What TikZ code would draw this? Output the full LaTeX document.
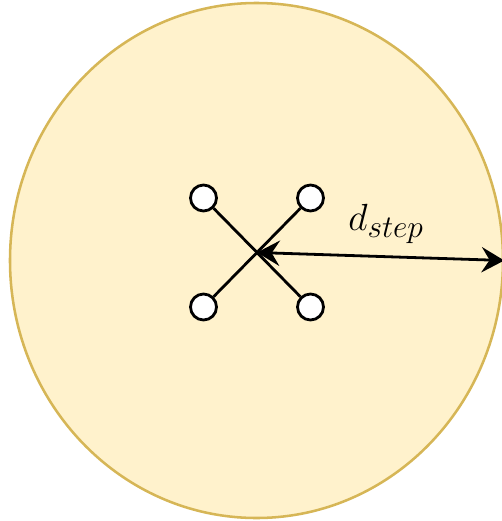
\documentclass[tikz,border=0pt]{standalone}
\usepackage{amsmath}
\usepackage{tikz}
\usetikzlibrary{arrows.meta,shapes.geometric}
\definecolor{zonefill}{HTML}{FFF2CC}
\definecolor{zoneline}{HTML}{D6B656}
\tikzset{zone/.style={ellipse,draw=zoneline,fill=zonefill,line width=1.9pt,inner sep=0pt,
                      minimum width=369.75pt,minimum height=386.25pt},
         leg/.style={circle,draw=black,fill=white,line width=2.1pt,inner sep=0pt,minimum size=19.5pt},
         bar/.style={line width=2.1pt,draw=black},
         dim/.style={{Stealth[length=17pt,width=19pt,inset=6pt]}-{Stealth[length=17pt,width=19pt,inset=6pt]},line width=2.1pt}}

\begin{document}
\begin{tikzpicture}[x=0.75pt,y=-0.75pt]
\useasboundingbox (0,0) rectangle (501,521);
\node[zone] (disc) at (256.5,260.5) {};
\coordinate (hub) at (257,252.5);
\node[leg] (tl) at (203.5,198) {};
\node[leg] (tr) at (310.5,198) {};
\node[leg] (bl) at (203.5,307) {};
\node[leg] (br) at (310.5,307) {};
\draw[bar] (tl) -- (br);
\draw[bar] (tr) -- (bl);
\draw[dim] (hub) -- (disc.east);
\node[font=\Huge,scale=1.14] (lbl) at (386,224) {$d_{step}$};
\end{tikzpicture}
\end{document}
